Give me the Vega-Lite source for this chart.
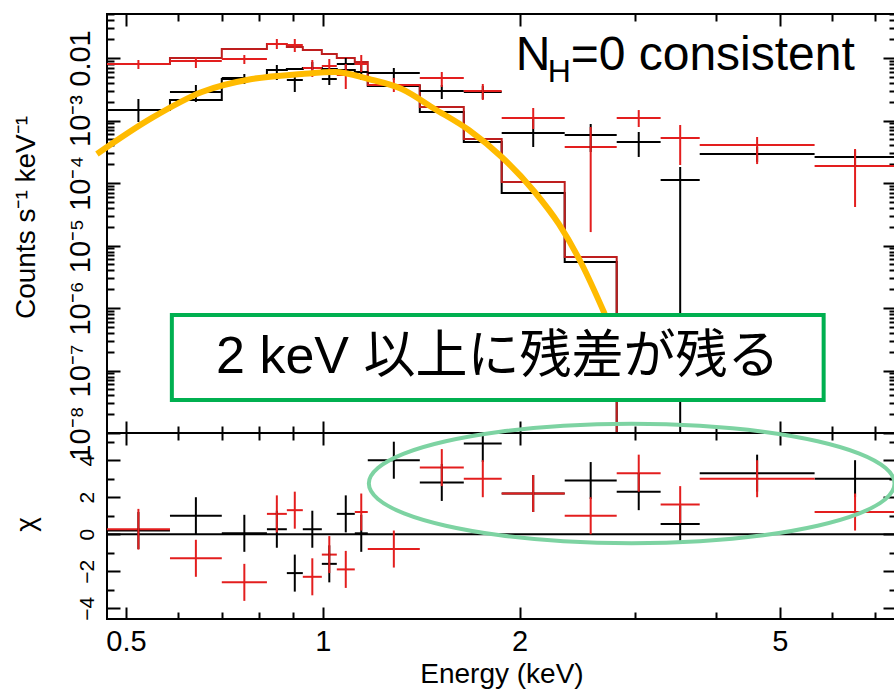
{
  "$schema": "https://vega.github.io/schema/vega-lite/v6.json",
  "padding": {"left": 11, "top": 12, "right": 0, "bottom": 0},
  "background": "white",
  "spacing": 0,
  "bounds": "flush",
  "config": {
    "view": {"stroke": "black", "strokeWidth": 2},
    "axis": {"domain": false, "grid": false, "tickColor": "black", "tickWidth": 2, "labelColor": "black", "titleColor": "black", "labelFont": "Liberation Sans", "titleFont": "Liberation Sans", "titleFontWeight": "normal", "labelFontSize": 29, "titleFontSize": 28, "labelOverlap": false, "labelFlush": false},
    "text": {"font": "Liberation Sans"}
  },
  "datasets": {
    "model": [
      {"s":"black","e":0.4675,"r":0.00147},
      {"s":"black","e":0.5837,"r":0.00213},
      {"s":"black","e":0.7006,"r":0.00461},
      {"s":"black","e":0.8213,"r":0.00643},
      {"s":"black","e":0.8810,"r":0.00667},
      {"s":"black","e":0.9320,"r":0.00692},
      {"s":"black","e":0.9965,"r":0.00667},
      {"s":"black","e":1.0505,"r":0.00643},
      {"s":"black","e":1.1192,"r":0.00597},
      {"s":"black","e":1.1716,"r":0.00356},
      {"s":"black","e":1.4072,"r":0.00137},
      {"s":"black","e":1.6431,"r":0.000453},
      {"s":"black","e":1.8777,"r":0.0000692},
      {"s":"black","e":2.3443,"r":0.00000545},
      {"s":"black","e":2.8156,"r":1e-12},
      {"s":"red","e":0.4675,"r":0.00802},
      {"s":"red","e":0.5837,"r":0.0100},
      {"s":"red","e":0.7006,"r":0.01393},
      {"s":"red","e":0.8213,"r":0.01675},
      {"s":"red","e":0.8810,"r":0.01500},
      {"s":"red","e":0.9320,"r":0.01343},
      {"s":"red","e":0.9965,"r":0.01159},
      {"s":"red","e":1.0505,"r":0.0100},
      {"s":"red","e":1.1192,"r":0.00863},
      {"s":"red","e":1.1716,"r":0.00370},
      {"s":"red","e":1.4072,"r":0.00164},
      {"s":"red","e":1.6431,"r":0.000506},
      {"s":"red","e":1.8777,"r":0.000104},
      {"s":"red","e":2.3443,"r":0.00000655},
      {"s":"red","e":2.8156,"r":1e-12}
    ],
    "spec": [
      {"s":"black","lo":0.4675,"hi":0.5837,"e":0.5223,"r":0.00147,"rlo":0.000946,"rhi":0.00221},
      {"s":"black","lo":0.5837,"hi":0.7006,"e":0.6395,"r":0.00286,"rlo":0.00198,"rhi":0.00370},
      {"s":"black","lo":0.7006,"hi":0.8213,"e":0.7585,"r":0.00479,"rlo":0.00384,"rhi":0.00555},
      {"s":"black","lo":0.8213,"hi":0.8810,"e":0.8505,"r":0.00643,"rlo":0.00445,"rhi":0.00773},
      {"s":"black","lo":0.8810,"hi":0.9320,"e":0.9060,"r":0.00445,"rlo":0.00286,"rhi":0.00555},
      {"s":"black","lo":0.9320,"hi":0.9965,"e":0.9637,"r":0.00692,"rlo":0.00515,"rhi":0.00863},
      {"s":"black","lo":0.9965,"hi":1.0505,"e":1.0231,"r":0.00461,"rlo":0.00370,"rhi":0.00555},
      {"s":"black","lo":1.0505,"hi":1.1192,"e":1.0842,"r":0.00802,"rlo":0.00597,"rhi":0.0100},
      {"s":"black","lo":1.1192,"hi":1.1716,"e":1.1450,"r":0.00597,"rlo":0.00445,"rhi":0.00773},
      {"s":"black","lo":1.1716,"hi":1.4072,"e":1.2842,"r":0.00575,"rlo":0.00445,"rhi":0.00692},
      {"s":"black","lo":1.4072,"hi":1.6431,"e":1.5205,"r":0.00296,"rlo":0.00221,"rhi":0.00370},
      {"s":"black","lo":1.6431,"hi":1.8777,"e":1.7568,"r":0.00286,"rlo":0.00221,"rhi":0.00356},
      {"s":"black","lo":1.8777,"hi":2.3443,"e":2.0982,"r":0.000631,"rlo":0.000377,"rhi":0.001057},
      {"s":"black","lo":2.3443,"hi":2.8156,"e":2.5690,"r":0.000586,"rlo":0.000313,"rhi":0.000879},
      {"s":"black","lo":2.8156,"hi":3.2866,"e":3.0427,"r":0.000453,"rlo":0.000261,"rhi":0.000655},
      {"s":"black","lo":3.2866,"hi":3.7717,"e":3.5210,"r":0.000112,"rlo":1e-12,"rhi":0.000180},
      {"s":"black","lo":3.7717,"hi":5.6530,"e":4.6169,"r":0.000291,"rlo":0.000217,"rhi":0.000377},
      {"s":"black","lo":5.6530,"hi":7.5164,"e":6.5190,"r":0.000261,"rlo":0.000180,"rhi":0.000337},
      {"s":"red","lo":0.4675,"hi":0.5837,"e":0.5223,"r":0.00802,"rlo":0.00667,"rhi":0.00929},
      {"s":"red","lo":0.5837,"hi":0.7006,"e":0.6395,"r":0.00895,"rlo":0.00692,"rhi":0.01037},
      {"s":"red","lo":0.7006,"hi":0.8213,"e":0.7585,"r":0.00964,"rlo":0.00802,"rhi":0.01117},
      {"s":"red","lo":0.8213,"hi":0.8810,"e":0.8505,"r":0.01675,"rlo":0.01393,"rhi":0.02014},
      {"s":"red","lo":0.8810,"hi":0.9320,"e":0.9060,"r":0.01614,"rlo":0.01247,"rhi":0.02014},
      {"s":"red","lo":0.9320,"hi":0.9965,"e":0.9637,"r":0.00692,"rlo":0.00497,"rhi":0.00929},
      {"s":"red","lo":0.9965,"hi":1.0505,"e":1.0231,"r":0.00745,"rlo":0.00555,"rhi":0.00964},
      {"s":"red","lo":1.0505,"hi":1.1192,"e":1.0842,"r":0.00535,"rlo":0.00319,"rhi":0.00802},
      {"s":"red","lo":1.1192,"hi":1.1716,"e":1.1450,"r":0.00802,"rlo":0.00597,"rhi":0.01117},
      {"s":"red","lo":1.1716,"hi":1.4072,"e":1.2842,"r":0.00370,"rlo":0.00286,"rhi":0.00479},
      {"s":"red","lo":1.4072,"hi":1.6431,"e":1.5205,"r":0.00479,"rlo":0.00344,"rhi":0.00597},
      {"s":"red","lo":1.6431,"hi":1.8777,"e":1.7568,"r":0.00296,"rlo":0.00213,"rhi":0.00384},
      {"s":"red","lo":1.8777,"hi":2.3443,"e":2.0982,"r":0.00110,"rlo":0.000731,"rhi":0.001585},
      {"s":"red","lo":2.3443,"hi":2.8156,"e":2.5690,"r":0.000377,"rlo":0.0000164,"rhi":0.000787},
      {"s":"red","lo":2.8156,"hi":3.2866,"e":3.0427,"r":0.00110,"rlo":0.000787,"rhi":0.00147},
      {"s":"red","lo":3.2866,"hi":3.7717,"e":3.5210,"r":0.000525,"rlo":0.000194,"rhi":0.000847},
      {"s":"red","lo":3.7717,"hi":5.6530,"e":4.6169,"r":0.000406,"rlo":0.000201,"rhi":0.000545},
      {"s":"red","lo":5.6530,"hi":7.5164,"e":6.5190,"r":0.000187,"rlo":0.0000413,"rhi":0.00035}
    ],
    "resid": [
      {"s":"black","lo":0.4675,"hi":0.5837,"e":0.5223,"c":0.2,"clo":-0.8,"chi":1.2},
      {"s":"black","lo":0.5837,"hi":0.7006,"e":0.6395,"c":1.0,"clo":0.0,"chi":2.0},
      {"s":"black","lo":0.7006,"hi":0.8213,"e":0.7585,"c":0.05,"clo":-0.95,"chi":1.05},
      {"s":"black","lo":0.8213,"hi":0.8810,"e":0.8505,"c":0.27,"clo":-0.73,"chi":1.27},
      {"s":"black","lo":0.8810,"hi":0.9320,"e":0.9060,"c":-2.1,"clo":-3.1,"chi":-1.1},
      {"s":"black","lo":0.9320,"hi":0.9965,"e":0.9637,"c":0.27,"clo":-0.73,"chi":1.27},
      {"s":"black","lo":0.9965,"hi":1.0505,"e":1.0231,"c":-1.6,"clo":-2.6,"chi":-0.6},
      {"s":"black","lo":1.0505,"hi":1.1192,"e":1.0842,"c":1.1,"clo":0.1,"chi":2.1},
      {"s":"black","lo":1.1192,"hi":1.1716,"e":1.1450,"c":0.05,"clo":-0.95,"chi":1.05},
      {"s":"black","lo":1.1716,"hi":1.4072,"e":1.2842,"c":4.0,"clo":3.0,"chi":5.0},
      {"s":"black","lo":1.4072,"hi":1.6431,"e":1.5205,"c":2.8,"clo":1.8,"chi":3.8},
      {"s":"black","lo":1.6431,"hi":1.8777,"e":1.7568,"c":4.9,"clo":3.9,"chi":5.9},
      {"s":"black","lo":1.8777,"hi":2.3443,"e":2.0982,"c":2.2,"clo":1.2,"chi":3.2},
      {"s":"black","lo":2.3443,"hi":2.8156,"e":2.5690,"c":2.9,"clo":1.9,"chi":3.9},
      {"s":"black","lo":2.8156,"hi":3.2866,"e":3.0427,"c":2.3,"clo":1.3,"chi":3.3},
      {"s":"black","lo":3.2866,"hi":3.7717,"e":3.5210,"c":0.55,"clo":-0.45,"chi":1.55},
      {"s":"black","lo":3.7717,"hi":5.6530,"e":4.6169,"c":3.3,"clo":2.3,"chi":4.3},
      {"s":"black","lo":5.6530,"hi":7.5164,"e":6.5190,"c":3.0,"clo":2.0,"chi":4.0},
      {"s":"red","lo":0.4675,"hi":0.5837,"e":0.5223,"c":0.27,"clo":-0.83,"chi":1.37},
      {"s":"red","lo":0.5837,"hi":0.7006,"e":0.6395,"c":-1.3,"clo":-2.3,"chi":-0.3},
      {"s":"red","lo":0.7006,"hi":0.8213,"e":0.7585,"c":-2.6,"clo":-3.6,"chi":-1.6},
      {"s":"red","lo":0.8213,"hi":0.8810,"e":0.8505,"c":1.1,"clo":0.1,"chi":2.1},
      {"s":"red","lo":0.8810,"hi":0.9320,"e":0.9060,"c":1.3,"clo":0.3,"chi":2.3},
      {"s":"red","lo":0.9320,"hi":0.9965,"e":0.9637,"c":-2.3,"clo":-3.3,"chi":-1.3},
      {"s":"red","lo":0.9965,"hi":1.0505,"e":1.0231,"c":-1.1,"clo":-2.1,"chi":-0.1},
      {"s":"red","lo":1.0505,"hi":1.1192,"e":1.0842,"c":-1.9,"clo":-2.9,"chi":-0.9},
      {"s":"red","lo":1.1192,"hi":1.1716,"e":1.1450,"c":1.2,"clo":0.2,"chi":2.2},
      {"s":"red","lo":1.1716,"hi":1.4072,"e":1.2842,"c":-0.8,"clo":-1.8,"chi":0.2},
      {"s":"red","lo":1.4072,"hi":1.6431,"e":1.5205,"c":3.6,"clo":2.6,"chi":4.6},
      {"s":"red","lo":1.6431,"hi":1.8777,"e":1.7568,"c":3.0,"clo":2.0,"chi":4.0},
      {"s":"red","lo":1.8777,"hi":2.3443,"e":2.0982,"c":2.2,"clo":1.2,"chi":3.2},
      {"s":"red","lo":2.3443,"hi":2.8156,"e":2.5690,"c":1.0,"clo":0.0,"chi":2.0},
      {"s":"red","lo":2.8156,"hi":3.2866,"e":3.0427,"c":3.3,"clo":2.3,"chi":4.3},
      {"s":"red","lo":3.2866,"hi":3.7717,"e":3.5210,"c":1.6,"clo":0.6,"chi":2.6},
      {"s":"red","lo":3.7717,"hi":5.6530,"e":4.6169,"c":3.0,"clo":2.0,"chi":4.0},
      {"s":"red","lo":5.6530,"hi":7.5164,"e":6.5190,"c":1.2,"clo":0.2,"chi":2.2}
    ],
    "curve": [
      {"i":0,"e":0.4513,"r":0.000291},
      {"i":1,"e":0.5477,"r":0.00110},
      {"i":2,"e":0.6531,"r":0.00286},
      {"i":3,"e":0.7789,"r":0.00461},
      {"i":4,"e":0.9288,"r":0.00555},
      {"i":5,"e":1.0432,"r":0.00597},
      {"i":6,"e":1.1756,"r":0.00461},
      {"i":7,"e":1.3206,"r":0.00319},
      {"i":8,"e":1.4832,"r":0.00153},
      {"i":9,"e":1.6724,"r":0.000705},
      {"i":10,"e":1.8777,"r":0.000261},
      {"i":11,"e":2.1093,"r":0.0000718},
      {"i":12,"e":2.2960,"r":0.0000221},
      {"i":13,"e":2.4889,"r":0.00000506},
      {"i":14,"e":2.6995,"r":0.000000802}
    ],
    "ellipse": [
      {"i":0,"e":7.491,"c":2.742},
      {"i":1,"e":7.259,"c":3.575},
      {"i":2,"e":6.619,"c":4.355},
      {"i":3,"e":5.713,"c":5.022},
      {"i":4,"e":4.716,"c":5.538},
      {"i":5,"e":3.772,"c":5.860},
      {"i":6,"e":2.968,"c":5.968},
      {"i":7,"e":2.335,"c":5.860},
      {"i":8,"e":1.868,"c":5.538},
      {"i":9,"e":1.542,"c":5.022},
      {"i":10,"e":1.331,"c":4.355},
      {"i":11,"e":1.214,"c":3.575},
      {"i":12,"e":1.176,"c":2.742},
      {"i":13,"e":1.214,"c":1.909},
      {"i":14,"e":1.331,"c":1.129},
      {"i":15,"e":1.542,"c":0.462},
      {"i":16,"e":1.868,"c":-0.054},
      {"i":17,"e":2.335,"c":-0.376},
      {"i":18,"e":2.968,"c":-0.484},
      {"i":19,"e":3.772,"c":-0.376},
      {"i":20,"e":4.716,"c":-0.054},
      {"i":21,"e":5.713,"c":0.462},
      {"i":22,"e":6.619,"c":1.129},
      {"i":23,"e":7.259,"c":1.909}
    ],
    "box": [{"x1":0.5876,"x2":5.836,"y1":7.73e-7,"y2":3.37e-8}],
    "boxtext": [{"e":1.852,"r":1.644e-7,"t":"2 keV 以上に残差が残る"}],
    "nhbig": [{"e":1.973,"r":0.00643,"t":"N"},{"e":2.394,"r":0.00643,"t":"=0 consistent"}],
    "nhsmall": [{"e":2.208,"r":0.00413,"t":"H"}],
    "zero": [{"c":0}]
  },
  "vconcat": [
    {
      "width": 789,
      "height": 419,
      "resolve": {"axis": {"x": "independent", "y": "independent"}, "scale": {"color": "independent"}},
      "layer": [
        {
          "data": {"name": "model"},
          "mark": {"type": "line", "interpolate": "step-after", "strokeWidth": 2, "clip": true},
          "encoding": {
            "x": {"field": "e", "type": "quantitative", "scale": {"type": "log", "domain": [0.4676, 7.53], "nice": false},
              "axis": {"orient": "bottom", "values": [0.5,0.6,0.7,0.8,0.9,1,2,3,4,5,6,7], "labels": false, "title": null,
                "tickSize": {"condition": {"test": "datum.value == 0.5 || datum.value == 1 || datum.value == 2 || datum.value == 5", "value": -12}, "value": -7}}},
            "y": {"field": "r", "type": "quantitative", "scale": {"type": "log", "domain": [1e-8, 0.0506], "nice": false},
              "axis": {"orient": "left",
                "values": [1e-8,2e-8,3e-8,4e-8,5e-8,6e-8,7e-8,8e-8,9e-8,1e-7,2e-7,3e-7,4e-7,5e-7,6e-7,7e-7,8e-7,9e-7,1e-6,2e-6,3e-6,4e-6,5e-6,6e-6,7e-6,8e-6,9e-6,0.00001,0.00002,0.00003,0.00004,0.00005,0.00006,0.00007,0.00008,0.00009,0.0001,0.0002,0.0003,0.0004,0.0005,0.0006,0.0007,0.0008,0.0009,0.001,0.002,0.003,0.004,0.005,0.006,0.007,0.008,0.009,0.01,0.02,0.03,0.04,0.05],
                "labels": false, "title": null,
                "tickSize": {"condition": {"test": "datum.value == 0.01 || datum.value == 0.001 || datum.value == 0.0001 || datum.value == 0.00001 || datum.value == 1e-6 || datum.value == 1e-7 || datum.value == 1e-8", "value": -13}, "value": -7}}},
            "color": {"field": "s", "type": "nominal", "scale": {"domain": ["black", "red"], "range": ["#000000", "#BE1E1E"]}, "legend": null}
          }
        },
        {
          "data": {"name": "spec"},
          "mark": {"type": "rule", "strokeWidth": 2, "clip": true},
          "encoding": {
            "x": {"field": "lo", "type": "quantitative", "scale": {"type": "log", "domain": [0.4676, 7.53], "nice": false},
              "axis": {"orient": "top", "values": [0.5,0.6,0.7,0.8,0.9,1,2,3,4,5,6,7], "labels": false, "title": null,
                "tickSize": {"condition": {"test": "datum.value == 0.5 || datum.value == 1 || datum.value == 2 || datum.value == 5", "value": -12}, "value": -7}}},
            "x2": {"field": "hi"},
            "y": {"field": "r", "type": "quantitative", "scale": {"type": "log", "domain": [1e-8, 0.0506], "nice": false},
              "axis": {"orient": "right",
                "values": [1e-8,2e-8,3e-8,4e-8,5e-8,6e-8,7e-8,8e-8,9e-8,1e-7,2e-7,3e-7,4e-7,5e-7,6e-7,7e-7,8e-7,9e-7,1e-6,2e-6,3e-6,4e-6,5e-6,6e-6,7e-6,8e-6,9e-6,0.00001,0.00002,0.00003,0.00004,0.00005,0.00006,0.00007,0.00008,0.00009,0.0001,0.0002,0.0003,0.0004,0.0005,0.0006,0.0007,0.0008,0.0009,0.001,0.002,0.003,0.004,0.005,0.006,0.007,0.008,0.009,0.01,0.02,0.03,0.04,0.05],
                "labels": false, "title": null,
                "tickSize": {"condition": {"test": "datum.value == 0.01 || datum.value == 0.001 || datum.value == 0.0001 || datum.value == 0.00001 || datum.value == 1e-6 || datum.value == 1e-7 || datum.value == 1e-8", "value": -13}, "value": -7}}},
            "color": {"field": "s", "type": "nominal", "scale": {"domain": ["black", "red"], "range": ["#000000", "#E31E1E"]}, "legend": null}
          }
        },
        {
          "data": {"name": "spec"},
          "mark": {"type": "rule", "strokeWidth": 2, "clip": true},
          "encoding": {
            "x": {"field": "e", "type": "quantitative", "scale": {"type": "log", "domain": [0.4676, 7.53], "nice": false}, "axis": null},
            "y": {"field": "rlo", "type": "quantitative", "scale": {"type": "log", "domain": [1e-8, 0.0506], "nice": false},
              "axis": {"orient": "left", "values": [1e-8,1e-7,1e-6,0.00001,0.0001,0.001,0.01], "ticks": false,
                "labelExpr": "datum.value == 0.01 ? '0.01' : datum.value == 0.001 ? '10⁻³' : datum.value == 0.0001 ? '10⁻⁴' : datum.value == 0.00001 ? '10⁻⁵' : datum.value == 1e-6 ? '10⁻⁶' : datum.value == 1e-7 ? '10⁻⁷' : '10⁻⁸'",
                "labelAngle": -90, "labelAlign": "center", "labelBaseline": "alphabetic", "labelPadding": 18, "labelFontSize": 29,
                "title": "Counts s⁻¹ keV⁻¹", "titleAngle": -90, "titleX": -73, "titleY": 203, "titleAlign": "center", "titleBaseline": "alphabetic", "titleFontSize": 28}},
            "y2": {"field": "rhi"},
            "color": {"field": "s", "type": "nominal", "scale": {"domain": ["black", "red"], "range": ["#000000", "#E31E1E"]}, "legend": null}
          }
        },
        {
          "data": {"name": "curve"},
          "mark": {"type": "line", "interpolate": "monotone", "strokeWidth": 6, "color": "#FFBB00", "strokeCap": "butt"},
          "encoding": {
            "x": {"field": "e", "type": "quantitative", "scale": {"type": "log", "domain": [0.4676, 7.53], "nice": false}, "axis": null},
            "y": {"field": "r", "type": "quantitative", "scale": {"type": "log", "domain": [1e-8, 0.0506], "nice": false}, "axis": null},
            "order": {"field": "i", "type": "quantitative"}
          }
        },
        {
          "data": {"name": "box"},
          "mark": {"type": "rect", "fill": "white", "stroke": "#00B050", "strokeWidth": 4},
          "encoding": {
            "x": {"field": "x1", "type": "quantitative", "scale": {"type": "log", "domain": [0.4676, 7.53], "nice": false}, "axis": null},
            "x2": {"field": "x2"},
            "y": {"field": "y1", "type": "quantitative", "scale": {"type": "log", "domain": [1e-8, 0.0506], "nice": false}, "axis": null},
            "y2": {"field": "y2"}
          }
        },
        {
          "data": {"name": "boxtext"},
          "mark": {"type": "text", "font": "Liberation Sans, Noto Sans CJK JP", "fontSize": 52, "align": "center", "baseline": "middle", "color": "black"},
          "encoding": {
            "x": {"field": "e", "type": "quantitative", "scale": {"type": "log", "domain": [0.4676, 7.53], "nice": false}, "axis": null},
            "y": {"field": "r", "type": "quantitative", "scale": {"type": "log", "domain": [1e-8, 0.0506], "nice": false}, "axis": null},
            "text": {"field": "t"}
          }
        },
        {
          "data": {"name": "nhbig"},
          "mark": {"type": "text", "font": "Liberation Sans", "fontSize": 48, "align": "left", "baseline": "alphabetic", "color": "black"},
          "encoding": {
            "x": {"field": "e", "type": "quantitative", "scale": {"type": "log", "domain": [0.4676, 7.53], "nice": false}, "axis": null},
            "y": {"field": "r", "type": "quantitative", "scale": {"type": "log", "domain": [1e-8, 0.0506], "nice": false}, "axis": null},
            "text": {"field": "t"}
          }
        },
        {
          "data": {"name": "nhsmall"},
          "mark": {"type": "text", "font": "Liberation Sans", "fontSize": 32, "align": "left", "baseline": "alphabetic", "color": "black"},
          "encoding": {
            "x": {"field": "e", "type": "quantitative", "scale": {"type": "log", "domain": [0.4676, 7.53], "nice": false}, "axis": null},
            "y": {"field": "r", "type": "quantitative", "scale": {"type": "log", "domain": [1e-8, 0.0506], "nice": false}, "axis": null},
            "text": {"field": "t"}
          }
        }
      ]
    },
    {
      "width": 789,
      "height": 186,
      "resolve": {"axis": {"x": "independent", "y": "independent"}},
      "layer": [
        {
          "data": {"name": "zero"},
          "mark": {"type": "rule", "strokeWidth": 2, "color": "black"},
          "encoding": {
            "y": {"field": "c", "type": "quantitative", "scale": {"domain": [-4.58, 5.47], "nice": false, "zero": false},
              "axis": {"orient": "left", "values": [-4,-3,-2,-1,0,1,2,3,4,5], "labels": false, "title": null,
                "tickSize": {"condition": {"test": "datum.value % 2 == 0", "value": -13}, "value": -7}}}
          }
        },
        {
          "data": {"name": "resid"},
          "mark": {"type": "rule", "strokeWidth": 2, "clip": true},
          "encoding": {
            "x": {"field": "lo", "type": "quantitative", "scale": {"type": "log", "domain": [0.4676, 7.53], "nice": false},
              "axis": {"orient": "bottom", "values": [0.5,0.6,0.7,0.8,0.9,1,2,3,4,5,6,7], "labels": false, "title": null,
                "tickSize": {"condition": {"test": "datum.value == 0.5 || datum.value == 1 || datum.value == 2 || datum.value == 5", "value": -12}, "value": -7}}},
            "x2": {"field": "hi"},
            "y": {"field": "c", "type": "quantitative", "scale": {"domain": [-4.58, 5.47], "nice": false, "zero": false},
              "axis": {"orient": "right", "values": [-4,-3,-2,-1,0,1,2,3,4,5], "labels": false, "title": null,
                "tickSize": {"condition": {"test": "datum.value % 2 == 0", "value": -13}, "value": -7}}},
            "color": {"field": "s", "type": "nominal", "scale": {"domain": ["black", "red"], "range": ["#000000", "#E31E1E"]}, "legend": null}
          }
        },
        {
          "data": {"name": "resid"},
          "mark": {"type": "rule", "strokeWidth": 2, "clip": true},
          "encoding": {
            "x": {"field": "e", "type": "quantitative", "scale": {"type": "log", "domain": [0.4676, 7.53], "nice": false},
              "axis": {"orient": "top", "values": [0.5,0.6,0.7,0.8,0.9,1,2,3,4,5,6,7], "labels": false, "title": null,
                "tickSize": {"condition": {"test": "datum.value == 0.5 || datum.value == 1 || datum.value == 2 || datum.value == 5", "value": -12}, "value": -7}}},
            "y": {"field": "clo", "type": "quantitative", "scale": {"domain": [-4.58, 5.47], "nice": false, "zero": false},
              "axis": {"orient": "left", "values": [-4,-2,0,2,4], "ticks": false,
                "labelExpr": "datum.value < 0 ? '−' + (-datum.value) : '' + datum.value",
                "labelAngle": -90, "labelAlign": "center", "labelBaseline": "alphabetic", "labelPadding": 14, "labelFontSize": 21,
                "title": "χ", "titleAngle": -90, "titleX": -73, "titleY": 91, "titleAlign": "center", "titleBaseline": "alphabetic", "titleFontSize": 28}},
            "y2": {"field": "chi"},
            "color": {"field": "s", "type": "nominal", "scale": {"domain": ["black", "red"], "range": ["#000000", "#E31E1E"]}, "legend": null}
          }
        },
        {
          "data": {"name": "ellipse"},
          "mark": {"type": "line", "interpolate": "cardinal-closed", "strokeWidth": 4, "color": "#7DD3A2"},
          "encoding": {
            "x": {"field": "e", "type": "quantitative", "scale": {"type": "log", "domain": [0.4676, 7.53], "nice": false},
              "axis": {"orient": "bottom", "values": [0.5,1,2,5], "ticks": false, "format": "~g", "labelPadding": 8, "labelFontSize": 29,
                "title": "Energy (keV)", "titlePadding": 4, "titleFontSize": 28}},
            "y": {"field": "c", "type": "quantitative", "scale": {"domain": [-4.58, 5.47], "nice": false, "zero": false}, "axis": null},
            "order": {"field": "i", "type": "quantitative"}
          }
        }
      ]
    }
  ]
}
